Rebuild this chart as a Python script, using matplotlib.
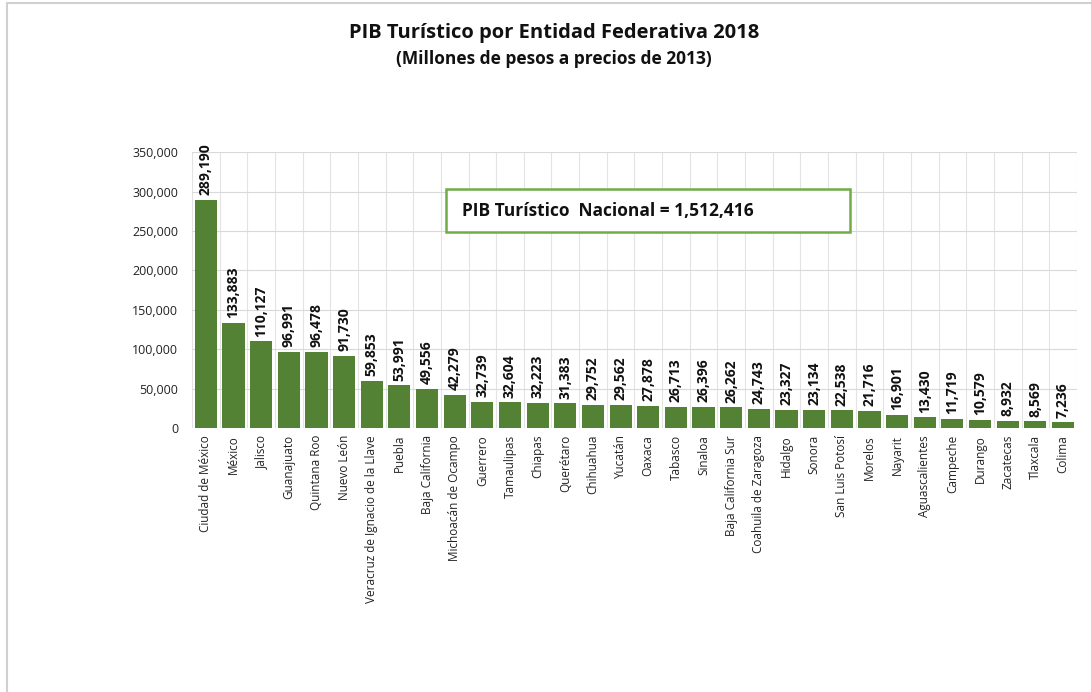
import matplotlib
matplotlib.use("Agg")
import matplotlib.pyplot as plt
from matplotlib.patches import Rectangle
from matplotlib.ticker import FuncFormatter
import numpy as np

plt.rcParams["font.family"] = ["Open Sans", "DejaVu Sans"]

estados = [
    "Ciudad de México", "México", "Jalisco", "Guanajuato", "Quintana Roo",
    "Nuevo León", "Veracruz de Ignacio de la Llave", "Puebla", "Baja California",
    "Michoacán de Ocampo", "Guerrero", "Tamaulipas", "Chiapas", "Querétaro",
    "Chihuahua", "Yucatán", "Oaxaca", "Tabasco", "Sinaloa", "Baja California Sur",
    "Coahuila de Zaragoza", "Hidalgo", "Sonora", "San Luis Potosí", "Morelos",
    "Nayarit", "Aguascalientes", "Campeche", "Durango", "Zacatecas", "Tlaxcala",
    "Colima",
]
pib = [
    289190, 133883, 110127, 96991, 96478, 91730, 59853, 53991, 49556, 42279,
    32739, 32604, 32223, 31383, 29752, 29562, 27878, 26713, 26396, 26262,
    24743, 23327, 23134, 22538, 21716, 16901, 13430, 11719, 10579, 8932,
    8569, 7236,
]
y_ticks = [0, 50000, 100000, 150000, 200000, 250000, 300000, 350000]
pib_nacional = "1,512,416"

fig = plt.figure(figsize=(10.91, 6.92), dpi=100)
fig.patches.append(Rectangle((0.006, -0.01), 1.1, 1.0055, transform=fig.transFigure,
                             fill=False, edgecolor="#d0d0d0", linewidth=1.5))
ax = fig.add_axes([0.176, 0.3815, 0.811, 0.3985])

x = np.arange(len(estados))
ax.bar(x, pib, width=0.8, color="#548235", zorder=3)

ax.set_xlim(-0.5, len(estados) - 0.5)
ax.set_ylim(0, 350000)
ax.set_yticks(y_ticks)
ax.yaxis.set_major_formatter(FuncFormatter(lambda v, _: f"{int(v):,}"))
ax.set_xticks(x)
ax.set_xticklabels(estados, rotation=90, fontsize=8.5, color="#222222")
ax.tick_params(axis="y", labelsize=9, colors="#222222", length=0, pad=10)
ax.tick_params(axis="x", length=0, pad=5)

# gridlines: horizontal at ticks, vertical between categories
ax.grid(axis="y", color="#d9d9d9", linewidth=0.8, zorder=0)
for b in np.arange(-0.5, len(estados), 1.0):
    ax.axvline(b, color="#e3e3e3", linewidth=0.8, zorder=0)
for s in ax.spines.values():
    s.set_visible(False)

for xi, v in zip(x, pib):
    ax.text(xi, v + 6000, f"{v:,}", rotation=90, ha="center", va="bottom",
            fontsize=10, fontweight="bold", color="#111111", zorder=4,
            clip_on=False)

# national total box
ax.add_patch(Rectangle((8.7, 248500), 14.6, 54500, facecolor="white",
                       edgecolor="#70ad47", linewidth=1.8, zorder=5))
ax.text(9.25, 275750, f"PIB Turístico  Nacional = {pib_nacional}", fontsize=12.5,
        fontweight="bold", va="center", ha="left", color="#111111", zorder=6)

fig.text(0.508, 0.953, "PIB Turístico por Entidad Federativa 2018", ha="center",
         va="center", fontsize=14.5, fontweight="bold", color="#111111")
fig.text(0.508, 0.915, "(Millones de pesos a precios de 2013)", ha="center",
         va="center", fontsize=12.5, fontweight="bold", color="#111111")

fig.savefig("out.png", dpi=100)
plt.close()
